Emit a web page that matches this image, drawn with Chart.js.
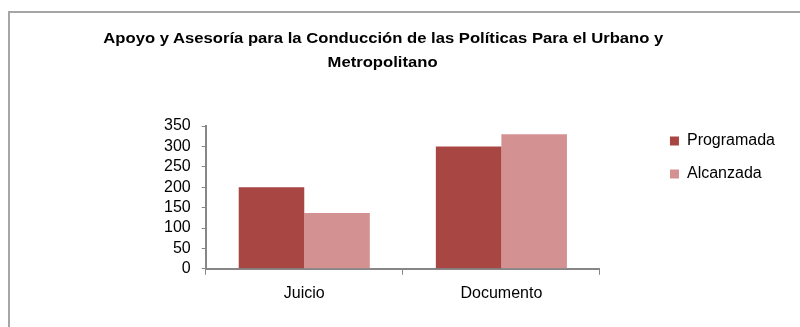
<!DOCTYPE html>
<html>
<head>
<meta charset="utf-8">
<script src="https://cdn.jsdelivr.net/npm/chart.js@4/dist/chart.umd.min.js"></script>
<style>
  html, body { margin: 0; padding: 0; background: #fff; }
  #wrap { position: relative; width: 800px; height: 327px; overflow: hidden; }
  #frame { position: absolute; left: 8px; top: 11px; width: 900px; height: 400px; border-left: 2px solid #a6a6a6; border-top: 2px solid #a6a6a6; box-sizing: border-box; }
  #title { position: absolute; left: -17px; width: 800px; top: 26px; text-align: center; font: bold 15px "Liberation Sans", Arial, sans-serif; color: #000; line-height: 24px; z-index: 2; }
  #title span { display: inline-block; white-space: nowrap; transform-origin: 50% 50%; }
  canvas { position: absolute; left: 0; top: 0; }
</style>
</head>
<body>
<div id="wrap">
  <div id="frame"></div>
  <div id="title"><span id="t1">Apoyo y Asesoría para la Conducción de las Políticas Para el Urbano y</span><br><span id="t2">Metropolitano</span></div>
  <canvas id="c" width="800" height="327"></canvas>
</div>
<script>
const categories = ["Juicio", "Documento"];
const programada = [200, 300];
const alcanzada = [137, 330];
const seriesNames = ["Programada", "Alcanzada"];
const yTicks = [0, 50, 100, 150, 200, 250, 300, 350];

// fit the title line to the original's width
(function () {
  const t1 = document.getElementById('t1');
  const s = 560 / t1.getBoundingClientRect().width;
  t1.style.transform = 'scaleX(' + s + ')';
  document.getElementById('t2').style.transform = 'scaleX(' + s + ')';
})();

const font = { family: "'Liberation Sans', Arial, sans-serif", size: 16 };

const legendShift = {
  id: 'legendShift',
  afterLayout(chart) {
    const lg = chart.legend;
    if (!lg) return;
    const dx = 53, dy = -10;
    lg.left += dx; lg.right += dx; lg.top += dy; lg.bottom += dy;
  }
};

new Chart(document.getElementById('c'), {
  type: 'bar',
  data: {
    labels: categories,
    datasets: [
      { label: seriesNames[0], data: programada, backgroundColor: '#a84644', borderWidth: 0, categoryPercentage: 0.665, barPercentage: 1 },
      { label: seriesNames[1], data: alcanzada, backgroundColor: '#d39191', borderWidth: 0, categoryPercentage: 0.665, barPercentage: 1 }
    ]
  },
  plugins: [legendShift],
  options: {
    responsive: false,
    animation: false,
    devicePixelRatio: 1,
    layout: { padding: { top: 126, left: 153, right: 68, bottom: 15 } },
    plugins: {
      title: { display: false },
      tooltip: { enabled: false },
      legend: {
        position: 'right',
        align: 'start',
        labels: { boxWidth: 9, boxHeight: 9, padding: 17, color: '#000', font: font }
      }
    },
    scales: {
      x: {
        grid: { display: true, drawOnChartArea: false, drawTicks: true, tickLength: 6, color: '#868686', offset: true },
        border: { color: '#868686', width: 2 },
        ticks: { color: '#000', font: font, padding: 9 }
      },
      y: {
        min: 0, max: 350,
        afterBuildTicks: (s) => { s.ticks = yTicks.map(v => ({ value: v })); },
        grid: { display: true, drawOnChartArea: false, drawTicks: true, tickLength: 4, color: '#868686' },
        border: { color: '#868686', width: 2 },
        ticks: { color: '#000', font: font, padding: 11, autoSkip: false }
      }
    }
  }
});
</script>
</body>
</html>
